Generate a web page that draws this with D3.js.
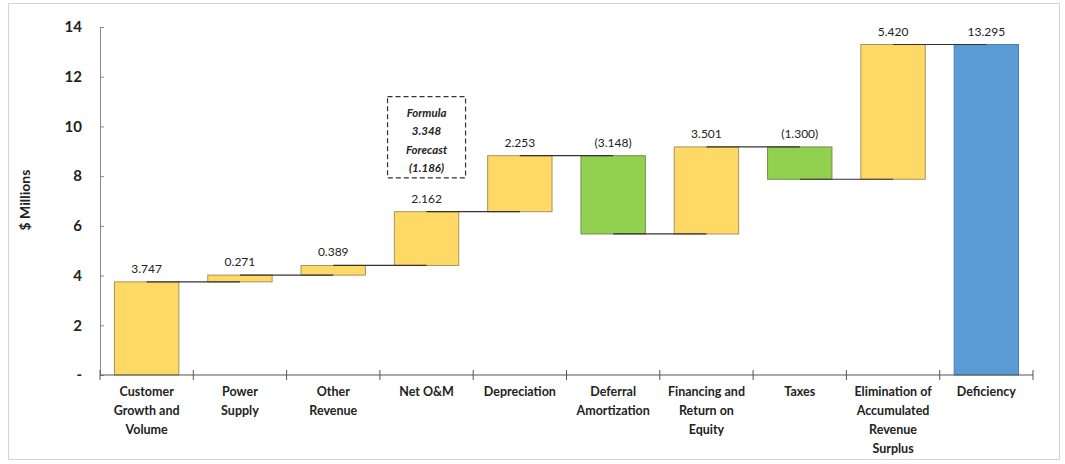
<!DOCTYPE html>
<html>
<head>
<meta charset="utf-8">
<script src="https://cdn.jsdelivr.net/npm/d3@7"></script>
<style>
  body { margin: 0; background: #fff; }
  text { font-family: Lato, "Open Sans", sans-serif; fill: #222; }
</style>
</head>
<body>
<div id="chart"></div>
<script>
// chart data
var categories = [
  ["Customer", "Growth and", "Volume"],
  ["Power", "Supply"],
  ["Other", "Revenue"],
  ["Net O&M"],
  ["Depreciation"],
  ["Deferral", "Amortization"],
  ["Financing and", "Return on", "Equity"],
  ["Taxes"],
  ["Elimination of", "Accumulated", "Revenue", "Surplus"],
  ["Deficiency"]
];
var changes = [3.747, 0.271, 0.389, 2.162, 2.253, -3.148, 3.501, -1.300, 5.420];
var total = 13.295;
var valueLabels = ["3.747", "0.271", "0.389", "2.162", "2.253", "(3.148)", "3.501", "(1.300)", "5.420", "13.295"];
var yTicks = [0, 2, 4, 6, 8, 10, 12, 14];
var noteLines = ["Formula", "3.348", "Forecast", "(1.186)"];

var svgWidth = 1065;
var svgHeight = 464;
var margin = { top: 27, right: 32, bottom: 89, left: 100 };
var width = svgWidth - margin.left - margin.right;
var height = svgHeight - margin.top - margin.bottom;

var svg = d3.select("#chart")
  .append("svg")
  .attr("width", svgWidth)
  .attr("height", svgHeight);

// outer frame
svg.append("rect")
  .attr("x", 8.5).attr("y", 3.5)
  .attr("width", 1051).attr("height", 456)
  .attr("fill", "none")
  .attr("stroke", "#d4d4d4");

var chartGroup = svg.append("g")
  .attr("transform", `translate(${margin.left}, ${margin.top})`);

// build waterfall steps
var steps = [];
var running = 0;
changes.forEach(function(d, i) {
  var start = running;
  running += d;
  steps.push({ i: i, start: start, end: running, value: d, kind: d >= 0 ? "up" : "down" });
});
steps.push({ i: changes.length, start: 0, end: total, value: total, kind: "total" });

var xScale = d3.scaleBand()
  .domain(d3.range(categories.length))
  .range([0, width])
  .paddingInner(0.31)
  .paddingOuter(0.155);

var yScale = d3.scaleLinear()
  .domain([0, 14])
  .range([height, 0]);

var colors = { up: "#ffd966", down: "#92d050", total: "#5b9bd5" };
var strokes = { up: "#a8915a", down: "#6f8f4a", total: "#4a7fb0" };

// y axis
var leftAxis = d3.axisLeft(yScale)
  .tickValues(yTicks)
  .tickSize(-4)
  .tickPadding(18)
  .tickFormat(d => d === 0 ? "-" : d);

var yAxis = chartGroup.append("g").call(leftAxis);
yAxis.select(".domain").attr("stroke", "#888");
yAxis.selectAll(".tick line").attr("stroke", "#888");
yAxis.selectAll("text")
  .style("font-size", "15px")
  .style("font-weight", "bold")
  .attr("fill", "#333");

// bars
chartGroup.selectAll(".bar")
  .data(steps)
  .enter()
  .append("rect")
  .attr("class", "bar")
  .attr("x", d => xScale(d.i))
  .attr("width", xScale.bandwidth())
  .attr("y", d => yScale(Math.max(d.start, d.end)))
  .attr("height", d => Math.abs(yScale(d.start) - yScale(d.end)))
  .attr("fill", d => colors[d.kind])
  .attr("stroke", d => strokes[d.kind])
  .attr("stroke-width", 1);

// connectors between bar centres at the running total
chartGroup.selectAll(".connector")
  .data(steps.slice(0, steps.length - 1))
  .enter()
  .append("line")
  .attr("class", "connector")
  .attr("x1", d => xScale(d.i) + xScale.bandwidth() / 2)
  .attr("x2", d => xScale(d.i + 1) + xScale.bandwidth() / 2)
  .attr("y1", d => yScale(d.end))
  .attr("y2", d => yScale(d.end))
  .attr("stroke", "#333")
  .attr("stroke-width", 1.2);

// value labels
chartGroup.selectAll(".vlabel")
  .data(steps)
  .enter()
  .append("text")
  .attr("class", "vlabel")
  .attr("x", d => xScale(d.i) + xScale.bandwidth() / 2)
  .attr("y", d => yScale(Math.max(d.start, d.end)) - 9)
  .attr("text-anchor", "middle")
  .style("font-size", "12px")
  .text((d, i) => valueLabels[i]);

// x axis with ticks at category boundaries
var xAxisGroup = chartGroup.append("g")
  .attr("transform", `translate(0, ${height})`);

xAxisGroup.append("line")
  .attr("x1", 0).attr("x2", width)
  .attr("stroke", "#555")
  .attr("stroke-width", 1.2);

xAxisGroup.selectAll(".xtick")
  .data(d3.range(categories.length + 1))
  .enter()
  .append("line")
  .attr("class", "xtick")
  .attr("x1", d => d * width / categories.length)
  .attr("x2", d => d * width / categories.length)
  .attr("y1", -5).attr("y2", 5)
  .attr("stroke", "#555");

var catLabels = xAxisGroup.selectAll(".xlabel")
  .data(categories)
  .enter()
  .append("text")
  .attr("class", "xlabel")
  .attr("text-anchor", "middle")
  .attr("transform", (d, i) => `translate(${xScale(i) + xScale.bandwidth() / 2}, 21)`)
  .style("font-size", "12.5px")
  .style("font-weight", "bold")
  .attr("fill", "#333");

catLabels.selectAll("tspan")
  .data(d => d)
  .enter()
  .append("tspan")
  .attr("x", 0)
  .attr("y", (d, i) => i * 19)
  .text(d => d);

// y axis title
svg.append("text")
  .attr("transform", "rotate(-90)")
  .attr("x", -200)
  .attr("y", 30)
  .attr("text-anchor", "middle")
  .style("font-size", "14px")
  .style("font-weight", "bold")
  .attr("fill", "#333")
  .text("$ Millions");

// forecast note box above Net O&M
var noteX = xScale(3) + xScale.bandwidth() / 2;
var noteTop = yScale(11.2);
var noteBottom = yScale(7.93);
var noteGroup = chartGroup.append("g");
noteGroup.append("rect")
  .attr("x", noteX - 39)
  .attr("y", noteTop)
  .attr("width", 78)
  .attr("height", noteBottom - noteTop)
  .attr("fill", "none")
  .attr("stroke", "#333")
  .attr("stroke-width", 1.2)
  .attr("stroke-dasharray", "5,3");

noteGroup.selectAll("text")
  .data(noteLines)
  .enter()
  .append("text")
  .attr("x", noteX)
  .attr("y", (d, i) => noteTop + 20 + i * 18.5)
  .attr("text-anchor", "middle")
  .style("font-size", "11.5px")
  .style("font-weight", "bold")
  .style("font-style", "italic")
  .text(d => d);
</script>
</body>
</html>
